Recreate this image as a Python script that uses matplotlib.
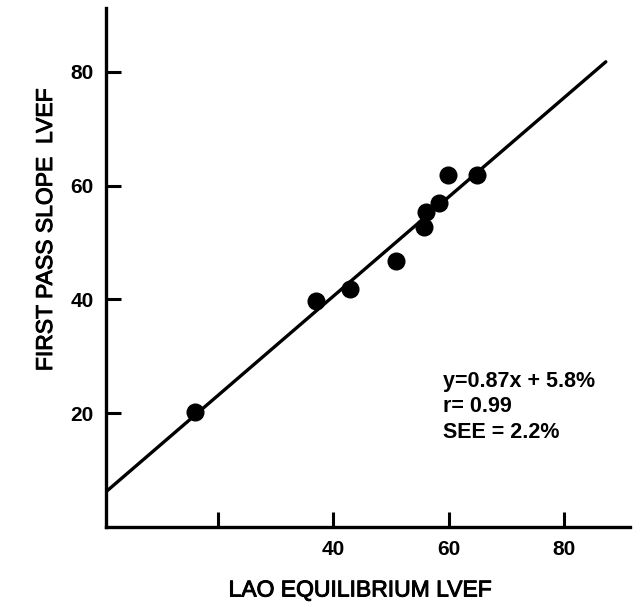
import matplotlib
matplotlib.use("Agg")
import matplotlib.pyplot as plt
import matplotlib.patheffects as pe

# Data
lao_lvef = [15.9, 37.0, 42.9, 50.9, 55.7, 56.1, 58.3, 59.9, 64.9]
first_pass_lvef = [20.2, 39.8, 41.8, 46.8, 52.8, 55.3, 57.0, 61.8, 61.8]
fit_slope = 0.87
fit_intercept = 5.8
fit_x = [0.0, 87.3]
x_ticks = [20, 40, 60, 80]
x_tick_labels = ["", "40", "60", "80"]
y_ticks = [20, 40, 60, 80]
y_tick_labels = ["20", "40", "60", "80"]
stats_lines = ["y=0.87x + 5.8%", "r= 0.99", "SEE = 2.2%"]

plt.rcParams['font.family'] = ['Liberation Sans', 'DejaVu Sans']

W, H = 639, 605
fig = plt.figure(figsize=(W / 100, H / 100), dpi=100)
ax = fig.add_axes([106 / W, 1 - 527.2 / H, (630 - 106) / W, (527.2 - 8) / H])

fit_y = [fit_slope * x + fit_intercept for x in fit_x]
ax.plot(fit_x, fit_y, color='black', lw=2.4, solid_capstyle='round', zorder=2)
ax.plot(lao_lvef, first_pass_lvef, 'o', color='black', markersize=12, zorder=3)

ax.set_xlim(0.49, 91.5)
ax.set_ylim(0, 91.2)

for side in ['top', 'right']:
    ax.spines[side].set_visible(False)
for side in ['left', 'bottom']:
    ax.spines[side].set_linewidth(2.4)

ax.set_xticks(x_ticks)
ax.set_xticklabels(x_tick_labels)
ax.set_yticks(y_ticks)
ax.set_yticklabels(y_tick_labels)
ax.tick_params(axis='both', direction='in', length=11, width=2.2,
               labelsize=15, pad=9)
for lbl in ax.get_xticklabels() + ax.get_yticklabels():
    lbl.set_fontweight('bold')

thick = [pe.withStroke(linewidth=0.7, foreground='black')]
fig.text(360 / W, 1 - 590 / H, "LAO EQUILIBRIUM LVEF", ha='center', va='center',
         fontsize=16.5, path_effects=thick)
fig.text(45.5 / W, 1 - 230 / H, "FIRST PASS SLOPE  LVEF", ha='center', va='center',
         rotation=90, fontsize=16.5, path_effects=thick)

stats_y = [381, 406.5, 432]
for s, yy in zip(stats_lines, stats_y):
    fig.text(443 / W, 1 - yy / H, s, ha='left', va='center',
             fontsize=15.5, fontweight='bold')

fig.savefig("out.png", dpi=100)
